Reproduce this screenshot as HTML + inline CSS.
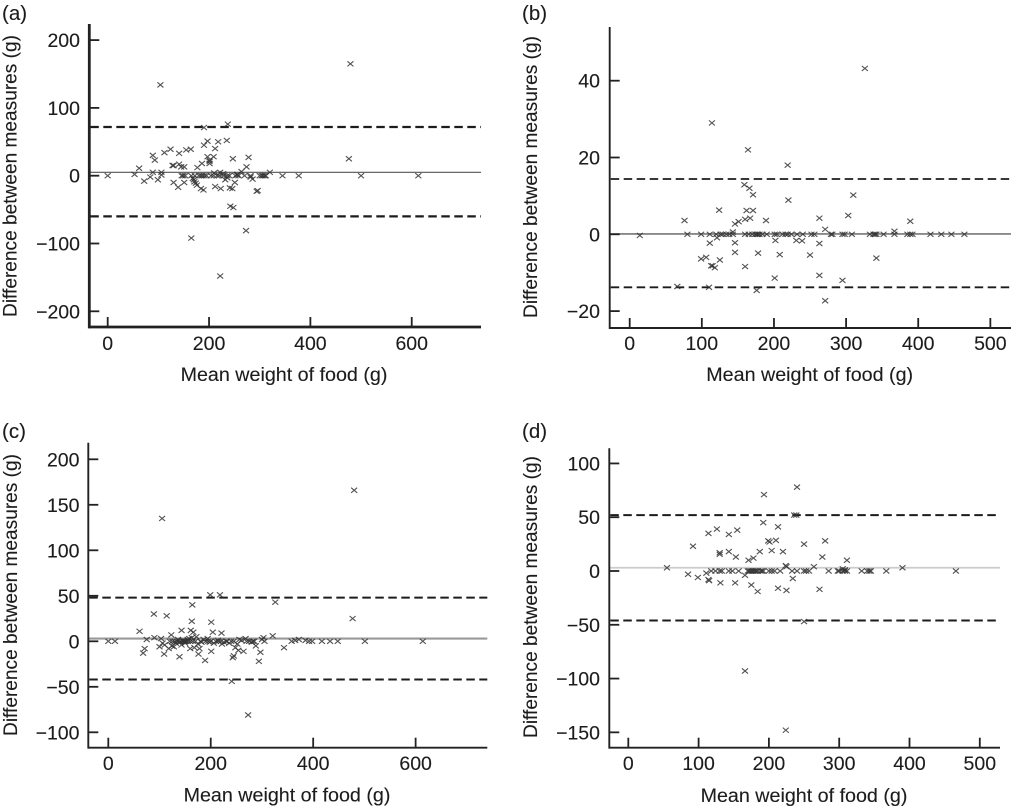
<!DOCTYPE html>
<html lang="en">
<head>
<meta charset="utf-8">
<title>Bland-Altman plots of food weight</title>
<style>
html,body{margin:0;padding:0;background:#fff;width:1011px;height:806px;overflow:hidden}
svg{display:block;font-family:"Liberation Sans",sans-serif}
text{fill:#1c1c1c;stroke:#1c1c1c;stroke-width:0.12}
</style>
</head>
<body>
<svg id="figure" xmlns="http://www.w3.org/2000/svg" width="1011" height="806" viewBox="0 0 1011 806"></svg>
<script>
// Each pair is [mean weight, difference]; the zero arrays hold mean weights whose difference is 0.
// Panel (a)
const pointsA = [[104,134],[479,165],[237,76],[190,71],[476,25],[197,51],[218,50],[235,52],[190,45],[212,40],[164,39],[155,38],[141,33],[124,39],[112,34],[89,30],[93,23],[62,11],[53,2],[72,-8],[84,-2],[89,5],[99,-6],[106,5],[106,1],[128,15],[130,15],[130,-10],[139,-17],[141,17],[145,13],[151,13],[151,-10],[168,-4],[171,-9],[176,-14],[177,12],[186,18],[184,-19],[189,-21],[197,28],[209,28],[201,23],[201,18],[201,21],[212,-16],[223,-19],[241,-18],[246,-19],[242,-45],[248,-47],[273,-81],[165,-92],[222,-148],[247,25],[278,27],[274,13],[294,-23],[296,-22],[320,5],[282,-2],[286,-5],[264,6],[255,1],[251,-10],[232,-6],[222,5],[170,-6],[174,-11],[228,3],[256,2],[236,-3],[210,4]];
const zeroA = [0,500,613,377,345,146,149,153,165,172,180,184,187,191,195,204,209,216,220,228,236,240,252,258,270,282,300,304,307,310,312];
const ticksAX = [0,200,400,600];
const ticksAY = [200,100,0,-100,-200];
const limitsA = [5,71.8,-60];

// Panel (b)
const pointsB = [[14,-0.3],[76,3.6],[114,29],[164,22],[219,18],[326,43.2],[159,12.9],[166,12],[171,10.3],[220,8.9],[310,10.2],[124,6.3],[162,6.2],[171,6.2],[160,3.9],[167,4.2],[189,3.6],[263,4.2],[303,4.9],[389,3.4],[367,0.8],[271,1.3],[146,2.7],[151,3.3],[143,0.6],[111,-2.3],[121,-0.9],[146,-2.2],[202,-1.6],[231,-1.6],[239,-1.7],[263,-2.4],[99,-6.4],[106,-6],[113,-8.2],[115,-8.2],[118,-8.7],[125,-6.7],[146,-4.7],[178,-4.9],[208,-5.3],[250,-5.4],[160,-8.4],[342,-6.2],[201,-11.4],[263,-10.7],[295,-12],[66,-13.6],[110,-13.8],[176,-14.6],[271,-17.3]];
const zeroB = [80,99,111,120,126,129,134,138,143,160,165,170,174,176,178,180,184,190,201,204,212,216,219,224,232,240,252,256,279,281,295,298,308,333,338,340,342,352,367,385,389,392,417,432,446,464];
const ticksBX = [0,100,200,300,400,500];
const ticksBY = [40,20,0,-20];
const limitsB = [0.1,14.4,-13.8];

// Panel (c)
const pointsC = [[105,135],[480,166],[477,25],[199,51],[218,51],[326,43],[164,40],[89,30],[114,28],[163,22],[201,21],[273,-81],[241,-44],[294,-22],[297,-12],[189,-21],[139,-17],[243,-18],[245,-16],[264,-11],[201,-11],[176,-14],[109,-14],[68,-13],[71,-8],[61,11],[143,12],[161,12],[166,10],[204,10],[221,9],[321,6],[123,7],[343,-7],[303,4],[75,2],[90,4],[100,-6],[103,3],[106,-2],[110,-4],[118,-8],[124,-5],[128,-6],[132,-2],[136,2],[140,-1],[143,-4],[146,1],[150,-2],[155,2],[158,3],[160,-8],[163,4],[168,-7],[172,5],[175,-3],[178,-8],[182,-1],[186,2],[194,3],[198,-1],[206,-2],[214,1],[222,-3],[226,-1],[236,-2],[248,-7],[252,-3],[254,-10],[256,2],[260,1],[268,3],[280,-1],[288,-5],[300,2],[365,1],[372,2],[385,1]];
const zeroC = [0,13,120,125,130,135,140,145,148,150,152,155,160,165,170,180,190,195,200,210,215,220,230,232,240,245,270,275,282,285,305,358,392,398,417,433,448,501,614];
const ticksCX = [0,200,400,600];
const ticksCY = [200,150,100,50,0,-50,-100];
const limitsC = [3,48,-42];

// Panel (d)
const pointsD = [[55,3],[85,-3],[99,-6],[111,-2],[114,-8],[115,-9],[92,23],[114,35],[126,39],[143,34],[155,38],[130,15.5],[130,17],[143,18],[153,13],[131,-11],[152,-11],[171,10],[178,12],[187,18],[192,45],[193,71],[240,78],[236,52],[239,52],[213,41],[199,28],[201,27],[210,28.5],[204,19],[220,18],[250,25],[280,28],[276,13],[311,10],[264,4],[224,5],[225,4],[390,3],[175,-13],[184,-19],[213,-16],[225,-18],[234,-7],[272,-17],[250,-47],[166,-93],[224,-148],[166,-4],[305,2],[308,1]];
const zeroD = [118,124,130,133,143,148,157,170,172,174,176,178,180,182,184,188,190,192,200,204,208,216,233,240,250,253,257,285,298,300,305,308,311,332,340,343,345,367,466];
const ticksDX = [0,100,200,300,400,500];
const ticksDY = [100,50,0,-50,-100,-150];
const limitsD = [3,52,-46];

const xTitle = "Mean weight of food (g)";
const yTitle = "Difference between measures (g)";
const NS = "http://www.w3.org/2000/svg";
const figure = document.getElementById("figure");

function shape(parent, tag, attrs, text) {
  const el = document.createElementNS(NS, tag);
  for (const key in attrs) el.setAttribute(key, attrs[key]);
  if (text !== undefined) el.textContent = text;
  parent.appendChild(el);
  return el;
}
function fmt(v) { return v < 0 ? "\u2212" + Math.abs(v) : String(v); }

function drawPanel(p) {
  const sx = v => p.x0 + v * p.kx;
  const sy = v => p.y0 - v * p.ky;
  const g = shape(figure, "g", {});
  
  

  const lab = shape(g, "text", {x: p.labelX, y: p.labelY, "font-size": 20.5}, "(" + p.id + ")");
  
  

  const mean = shape(g, "line", {x1: p.left, x2: p.right, y1: sy(p.limits[0]), y2: sy(p.limits[0]), stroke: p.meanColor, "stroke-width": p.meanWidth});
  
  

  [p.limits[1], p.limits[2]].forEach((v, i) => {
    const d = shape(g, "line", {x1: p.left + 1, x2: p.right, y1: sy(v), y2: sy(v), stroke: "#1c1c1c", "stroke-width": p.dashWidth, "stroke-dasharray": "8.5 4.5"});
    
    
  });

  const all = p.points.concat(p.zeros.map(w => [w, 0]));
  all.forEach(pt => {
    const cx = sx(pt[0]), cy = sy(pt[1]), r = 3;
    const m = shape(g, "path", {d: `M${cx - r} ${cy - r * 0.85}L${cx + r} ${cy + r * 0.85}M${cx - r} ${cy + r * 0.85}L${cx + r} ${cy - r * 0.85}`, stroke: "#333", "stroke-width": 1.1, fill: "none", opacity: 0.85});
    
    
  });

  const yAxis = shape(g, "line", {x1: p.left, x2: p.left, y1: p.top, y2: p.bottom + p.axisWidth / 2, stroke: "#222", "stroke-width": p.axisWidth});
  
  
  const xAxis = shape(g, "line", {x1: p.left, x2: p.right, y1: p.bottom, y2: p.bottom, stroke: "#222", "stroke-width": p.axisWidth});
  
  

  p.xTicks.forEach(v => {
    const t = shape(g, "line", {x1: sx(v), x2: sx(v), y1: p.bottom, y2: p.bottom - 10, stroke: "#222", "stroke-width": 1.8});
    
    
    const l = shape(g, "text", {x: sx(v), y: p.xTickY, "font-size": 19.5, "text-anchor": "middle"}, fmt(v));
    
    
  });
  p.yTicks.forEach(v => {
    const t = shape(g, "line", {x1: p.left, x2: p.left + 10, y1: sy(v), y2: sy(v), stroke: "#222", "stroke-width": 1.8});
    
    
    const l = shape(g, "text", {x: p.yTickX, y: sy(v) + 7, "font-size": 19.5, "text-anchor": "end"}, fmt(v));
    
    
  });

  const xt = shape(g, "text", {x: p.xTitleX, y: p.xTitleY, "font-size": 19.7, "text-anchor": "middle"}, xTitle);
  
  
  const yt = shape(g, "text", {transform: `translate(${p.yTitleX} ${p.yTitleY}) rotate(-90)`, "font-size": 19.1, "text-anchor": "middle"}, yTitle);
  
  
}

drawPanel({id: "a", points: pointsA, zeros: zeroA, limits: limitsA, xTicks: ticksAX, yTicks: ticksAY,
  x0: 107.7, kx: 0.5067, y0: 175.7, ky: 0.678, left: 89.3, right: 481, top: 24, bottom: 327,
  axisWidth: 2.8, meanColor: "#555", meanWidth: 1.2, dashWidth: 2.2,
  labelX: 2, labelY: 20, xTickY: 350, yTickX: 80, xTitleX: 284, xTitleY: 381, yTitleX: 16.7, yTitleY: 176});
drawPanel({id: "b", points: pointsB, zeros: zeroB, limits: limitsB, xTicks: ticksBX, yTicks: ticksBY,
  x0: 629.7, kx: 0.7213, y0: 234.3, ky: 3.84, left: 609.7, right: 1011, top: 27, bottom: 328,
  axisWidth: 1.9, meanColor: "#777", meanWidth: 1.6, dashWidth: 1.8,
  labelX: 522, labelY: 20, xTickY: 350, yTickX: 600, xTitleX: 809.7, xTitleY: 381, yTitleX: 537, yTitleY: 177});
drawPanel({id: "c", points: pointsC, zeros: zeroC, limits: limitsC, xTicks: ticksCX, yTicks: ticksCY,
  x0: 108.3, kx: 0.5122, y0: 641.3, ky: 0.91, left: 88.3, right: 487.3, top: 442.7, bottom: 747.7,
  axisWidth: 1.9, meanColor: "#999", meanWidth: 2.2, dashWidth: 2,
  labelX: 2, labelY: 438, xTickY: 770, yTickX: 79.5, xTitleX: 287, xTitleY: 801.7, yTitleX: 17, yTitleY: 595});
drawPanel({id: "d", points: pointsD, zeros: zeroD, limits: limitsD, xTicks: ticksDX, yTicks: ticksDY,
  x0: 628.3, kx: 0.703, y0: 571, ky: 1.0756, left: 609.3, right: 1000, top: 448.3, bottom: 747.7,
  axisWidth: 1.9, meanColor: "#ccc", meanWidth: 1.8, dashWidth: 2,
  labelX: 522, labelY: 438, xTickY: 770, yTickX: 600, xTitleX: 804, xTitleY: 802, yTitleX: 537, yTitleY: 597});
</script>
</body>
</html>
